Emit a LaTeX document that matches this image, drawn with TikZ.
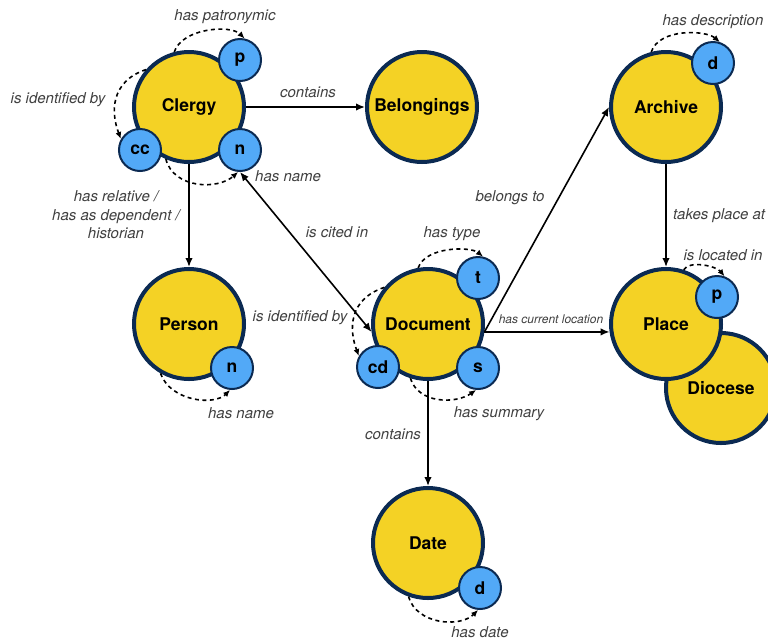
\documentclass[tikz,border=0pt]{standalone}
\usepackage{fontspec}
\setmainfont{TeX Gyre Heros}
\usetikzlibrary{arrows.meta}
\definecolor{conceptfill}{HTML}{F4D225}
\definecolor{conceptline}{HTML}{0B2A52}
\definecolor{attrfill}{HTML}{52A9F7}
\definecolor{labelgray}{HTML}{404040}

\tikzset{
  concept/.style={circle, draw=conceptline, fill=conceptfill, line width=4pt,
    minimum size=110pt, inner sep=0pt, font=\fontsize{17.5}{20}\selectfont\bfseries},
  attr/.style={circle, draw=conceptline, fill=attrfill, line width=2pt,
    minimum size=42pt, inner sep=0pt, font=\fontsize{17.5}{20}\selectfont\bfseries},
  rel/.style={line width=1.6pt, -{Latex[length=9pt,width=7.5pt]}},
  relboth/.style={line width=1.6pt, {Latex[length=9pt,width=7.5pt]}-{Latex[length=9pt,width=7.5pt]}},
  selfrel/.style={line width=1.6pt, dash pattern=on 4pt off 3.5pt, -{Latex[length=7pt,width=6pt]}},
  lbl/.style={font=\fontsize{15}{18.5}\selectfont\itshape, text=labelgray, inner sep=0pt},
  smalllbl/.style={font=\fontsize{12}{14}\selectfont\itshape, text=labelgray, inner sep=0pt},
}

\begin{document}
\begin{tikzpicture}[x=1pt, y=-1pt]
  \useasboundingbox (0,0) rectangle (768,641);
  \fill[white] (0,0) rectangle (768,641);
  \clip (0,0) rectangle (768,641);

  % main concepts (Diocese sits behind Place)
  \node[concept] (dioc)   at (721,388) {Diocese};
  \node[concept] (clergy) at (189,107) {Clergy};
  \node[concept] (belong) at (422,107) {Belongings};
  \node[concept] (person) at (189,324) {Person};
  \node[concept] (doc)    at (428,324) {Document};
  \node[concept] (date)   at (428,543) {Date};
  \node[concept] (arch)   at (666,107) {Archive};
  \node[concept] (place)  at (666,324) {Place};

  % attribute bubbles
  \node[attr] (clp)    at (240,60)  {p};
  \node[attr] (clcc)   at (140,150) {cc};
  \node[attr] (cln)    at (240,150) {n};
  \node[attr] (pn)     at (232,368) {n};
  \node[attr] (doct)   at (478,278) {t};
  \node[attr] (doccd)  at (378,367) {cd};
  \node[attr] (docs)   at (478,368) {s};
  \node[attr] (dated)  at (480,588) {d};
  \node[attr] (archd)  at (713,63)  {d};
  \node[attr] (placep) at (717,297) {p};

  % relations between concepts
  \draw[rel] (clergy) -- (belong);
  \draw[rel] (clergy) -- (person);
  \draw[relboth] (cln.south) -- (doc.188);
  \draw[rel] (doc.352) -- (arch.west);
  \draw[rel] (doc.352) -- (place.188);
  \draw[rel] (arch) -- (place);
  \draw[rel] (doc) -- (date);

  % attribute links
  \draw[selfrel] (clergy.105) .. controls +(8,-24) and +(-14,-14) .. (clp.78);
  \draw[selfrel] (clergy.139) .. controls +(-36,12) and +(-10,-26) .. (clcc.150);
  \draw[selfrel] (clergy.246) .. controls +(8,30) and +(-20,18) .. (cln.265);
  \draw[selfrel] (doc.100) .. controls +(8,-22) and +(-12,-10) .. (doct.77);
  \draw[selfrel] (doc.140) .. controls +(-36,12) and +(-10,-26) .. (doccd.150);
  \draw[selfrel] (doc.252) .. controls +(8,26) and +(-20,14) .. (docs.265);
  \draw[selfrel] (person.240) .. controls +(10,28) and +(-16,16) .. (pn.265);
  \draw[selfrel] (date.250) .. controls +(8,28) and +(-18,18) .. (dated.265);
  \draw[selfrel] (arch.105) .. controls +(8,-24) and +(-14,-12) .. (archd.72);
  \draw[selfrel] (place.72) .. controls +(6,-10) and +(-8,-10) .. (placep.70);

  % labels
  \node[lbl] (lpatr)  at (225,17)  {has patronymic};
  \node[lbl] (lclid)  at (58,100)  {is identified by};
  \node[lbl] (lcont1) at (308,92)  {contains};
  \node[lbl, anchor=west] (lclnm) at (255,176) {has name};
  \node[lbl, align=center] (lrel) at (116,215) {has relative /\\has as dependent /\\historian};
  \node[lbl] (lcited) at (337,232) {is cited in};
  \node[lbl] (lbel)   at (510,198) {belongs to};
  \node[lbl] (ltype)  at (452,234) {has type};
  \node[lbl] (ldocid) at (300,318) {is identified by};
  \node[smalllbl] (lloc) at (551,319) {has current location};
  \node[lbl] (lsum)   at (499,414) {has summary};
  \node[lbl] (lcont2) at (393,434) {contains};
  \node[lbl] (lpnm)   at (241,413) {has name};
  \node[lbl] (ldate)  at (480,632) {has date};
  \node[lbl] (ldesc)  at (713,22)  {has description};
  \node[lbl, anchor=west] (ltake) at (673,216) {takes place at};
  \node[lbl] (lin)    at (723,255) {is located in};
\end{tikzpicture}
\end{document}
